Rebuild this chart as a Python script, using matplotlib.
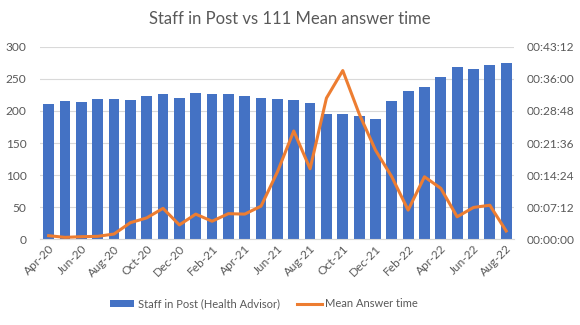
import matplotlib
matplotlib.use("Agg")
import matplotlib.pyplot as plt
from matplotlib.ticker import FuncFormatter, FixedLocator

plt.rcParams['font.family'] = ['Lato', 'DejaVu Sans']

months = ["Apr-20", "May-20", "Jun-20", "Jul-20", "Aug-20", "Sep-20", "Oct-20", "Nov-20",
          "Dec-20", "Jan-21", "Feb-21", "Mar-21", "Apr-21", "May-21", "Jun-21", "Jul-21",
          "Aug-21", "Sep-21", "Oct-21", "Nov-21", "Dec-21", "Jan-22", "Feb-22", "Mar-22",
          "Apr-22", "May-22", "Jun-22", "Jul-22", "Aug-22"]

staff_in_post = [211, 215, 214, 218, 218, 217, 223, 227, 220, 228, 227, 226, 223, 220, 218,
                 217, 212, 195, 196, 192, 187, 215, 232, 237, 253, 268, 265, 272, 275]

# mean answer time in minutes
mean_answer_min = [0.75, 0.37, 0.52, 0.6, 1.12, 3.67, 4.75, 6.9, 3.17, 5.6, 4.0, 5.7, 5.6, 7.4,
                   15.1, 24.3, 15.8, 31.7, 37.9, 28.2, 20.0, 14.0, 6.5, 14.0, 11.4, 5.0, 7.1,
                   7.6, 1.8]

left_ticks = [0, 50, 100, 150, 200, 250, 300]
right_ticks_min = [0, 7.2, 14.4, 21.6, 28.8, 36.0, 43.2]

text_col = "#595959"
fig = plt.figure(figsize=(5.8, 3.25), dpi=100)
ax = fig.add_axes([0.0698, 0.2646, 0.817, 0.5908])
ax2 = ax.twinx()

x = list(range(len(months)))
bars = ax.bar(x, staff_in_post, width=0.66, color="#4472C4", zorder=2,
              label="Staff in Post (Health Advisor)")
ax.set_xlim(-0.5, len(months) - 0.5)
ax.set_ylim(0, 300)
ax.set_yticks(left_ticks)
ax.grid(axis="y", color="#D9D9D9", linewidth=0.8, zorder=0)
ax.set_axisbelow(True)
ax.set_xticks(x[::2])
ax.set_xticklabels(months[::2], rotation=45, ha="right", rotation_mode="anchor")
for s in ["top", "right", "left"]:
    ax.spines[s].set_visible(False)
    ax2.spines[s].set_visible(False)
ax.spines["bottom"].set_color("#D9D9D9")
ax2.spines["bottom"].set_visible(False)
ax.tick_params(axis="both", length=0, colors=text_col, labelsize=8.6)
ax.tick_params(axis="x", pad=3)
ax.tick_params(axis="y", pad=10)

line, = ax2.plot(x, mean_answer_min, color="#ED7D31", linewidth=2.2, zorder=3,
                 label="Mean Answer time")
ax2.set_ylim(0, 43.2)
ax2.yaxis.set_major_locator(FixedLocator(right_ticks_min))

def fmt(v, pos):
    s = int(round(v * 60))
    return "%02d:%02d:%02d" % (s // 3600, (s % 3600) // 60, s % 60)

ax2.yaxis.set_major_formatter(FuncFormatter(fmt))
ax2.tick_params(axis="y", length=0, colors=text_col, labelsize=8.6, pad=9)

fig.suptitle("Staff in Post vs 111 Mean answer time", x=0.5, y=0.965,
             fontsize=12, color=text_col)

fig.legend(handles=[bars, line], loc="center", bbox_to_anchor=(0.455, 0.065), ncol=2,
           frameon=False, fontsize=8, labelcolor=text_col, handlelength=2.2,
           handleheight=0.6, columnspacing=1.6, handletextpad=0.3)

fig.savefig("out.png", dpi=100)
